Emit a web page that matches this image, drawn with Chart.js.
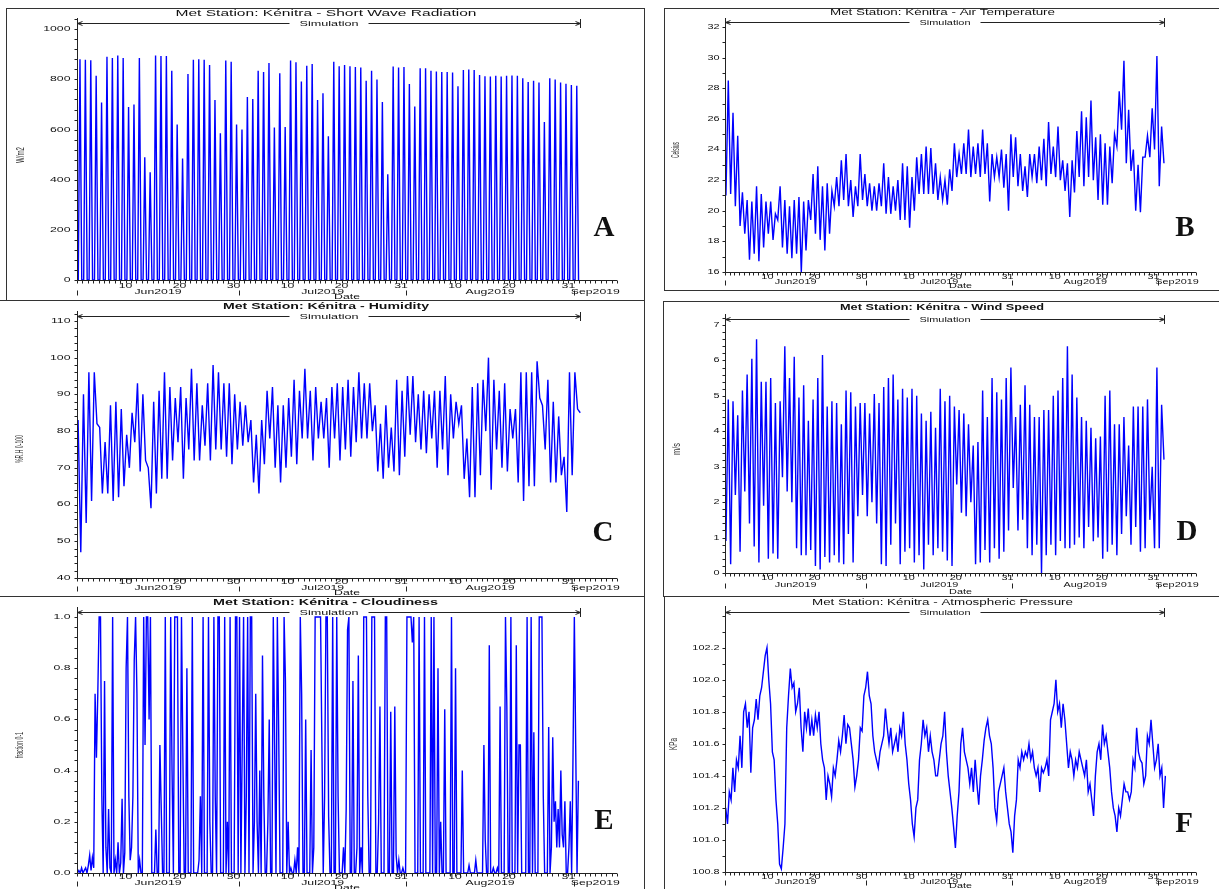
<!DOCTYPE html>
<html>
<head>
<meta charset="utf-8">
<script src="https://cdn.jsdelivr.net/npm/chart.js@4.4.1/dist/chart.umd.min.js"></script>
<style>
  html, body { margin: 0; padding: 0; background: #fff; }
  #page { position: relative; width: 1219px; height: 889px; overflow: hidden; background: #fff; }
  #page canvas { position: absolute; }
  .rule { position: absolute; background: #333; }
</style>
</head>
<body>
<div id="page"></div>
<script>
// ---- axis labels (days counted from 1 Jun 2019 00:00) ----
const dayTickDays = [9, 19, 29, 39, 49, 60, 70, 80, 91];
const dayTickLabels = ['10', '20', '30', '10', '20', '31', '10', '20', '31'];
const monthStarts = [0, 30, 61, 92];
const monthLabelDays = [15, 45.5, 76.5, 92];
const monthLabels = ['Jun2019', 'Jul2019', 'Aug2019', 'Sep2019'];
const simulationEnd = 93.1;

// ---- A: short wave radiation, daily peak W/m2 (night values are 0) ----
const radPeak = [
  880, 878, 876, 815, 708, 890, 885, 895, 885, 690,
  700, 885, 490, 430, 895, 893, 893, 835, 620, 485,
  822, 878, 880, 878, 858, 718, 585, 875, 870, 620,
  600, 730, 722, 835, 830, 865, 608, 825, 610, 875,
  868, 792, 855, 862, 718, 745, 573, 870, 853, 858,
  853, 850, 848, 795, 835, 800, 710, 422, 852, 848,
  850, 782, 692, 845, 845, 835, 832, 830, 830, 828,
  773, 838, 840, 838, 818, 813, 812, 815, 812, 815,
  816, 815, 805, 790, 795, 788, 630, 805, 800, 788,
  783, 778, 775
];

// ---- B: air temperature, two readings a day (night low, afternoon high) ----
const airTemp = [
  21.0, 28.5, 21.1, 26.4, 20.3, 24.9, 19.0, 21.2, 18.5, 20.7,
  16.8, 20.6, 17.2, 21.6, 16.7, 21.1, 17.6, 20.6, 18.5, 20.6,
  18.1, 19.8, 19.4, 21.6, 17.6, 20.7, 17.2, 20.3, 16.9, 20.7,
  17.2, 20.9, 16.0, 20.6, 17.4, 20.7, 19.4, 22.4, 18.5, 22.9,
  18.1, 21.6, 17.4, 21.8, 18.5, 21.3, 20.3, 22.2, 20.3, 23.3,
  20.7, 23.7, 20.3, 22.0, 19.6, 21.6, 20.3, 23.7, 20.7, 22.4,
  20.3, 21.8, 20.0, 21.6, 20.0, 21.8, 20.3, 23.1, 19.8, 22.2,
  19.8, 21.6, 20.0, 22.0, 19.4, 23.1, 19.4, 22.9, 18.9, 22.2,
  20.0, 23.5, 21.1, 23.7, 21.1, 24.2, 21.1, 24.1, 21.1, 23.1,
  20.7, 22.2, 20.7, 22.0, 20.4, 22.7, 21.3, 24.4, 22.2, 23.7,
  22.4, 24.4, 22.4, 25.3, 22.2, 24.2, 22.4, 24.4, 22.2, 25.3,
  22.4, 24.4, 20.6, 23.7, 22.2, 23.5, 22.2, 24.0, 21.5, 23.7,
  20.0, 25.0, 22.2, 24.8, 21.6, 23.7, 21.3, 22.9, 20.9, 23.7,
  22.2, 23.7, 21.8, 24.2, 22.0, 24.7, 21.6, 25.8, 22.4, 24.2,
  22.2, 25.5, 22.0, 23.3, 21.3, 23.1, 19.6, 23.3, 21.2, 25.2,
  22.2, 26.5, 21.6, 26.1, 22.2, 27.2, 22.0, 24.8, 20.7, 25.0,
  20.4, 24.4, 20.4, 24.2, 21.8, 25.0, 24.2, 27.8, 25.3, 29.8,
  23.1, 26.6, 22.6, 24.0, 20.0, 23.0, 19.9, 23.5, 23.5, 24.9,
  23.5, 26.7, 24.0, 30.1, 21.6, 25.5, 23.1
];

// ---- C: relative humidity %, two readings a day (night high, afternoon low) ----
const humidity = [
  83, 47, 90, 55, 96, 61, 96, 82, 81, 63, 77, 63, 87, 61, 88, 62, 86, 65, 79, 70,
  85, 77, 93, 69, 90, 72, 70, 59, 88, 63, 91, 67, 96, 67, 92, 72, 89, 77, 92, 67,
  89, 75, 97, 72, 93, 72, 87, 76, 93, 72, 98, 75, 96, 75, 93, 73, 93, 71, 90, 75,
  88, 76, 87, 77, 83, 66, 79, 63, 83, 71, 91, 78, 92, 70, 87, 66, 87, 70, 89, 73,
  94, 71, 91, 78, 97, 78, 91, 72, 92, 78, 88, 78, 89, 70, 92, 78, 93, 72, 92, 75,
  94, 73, 92, 77, 96, 78, 93, 78, 93, 80, 87, 69, 82, 67, 87, 70, 81, 69, 94, 68,
  91, 73, 95, 79, 95, 77, 90, 75, 91, 74, 90, 78, 91, 70, 91, 75, 95, 68, 90, 78,
  88, 82, 87, 67, 78, 62, 92, 62, 93, 68, 94, 80, 100, 64, 94, 75, 91, 70, 93, 69,
  86, 78, 86, 66, 96, 61, 96, 65, 96, 65, 99, 89, 87, 75, 94, 66, 88, 66, 84, 68,
  73, 58, 96, 68, 96, 86, 85
];

// ---- D: wind speed m/s, two readings a day (night low, afternoon high) ----
const windSpeed = [
  0.9, 4.9, 0.25, 4.85, 2.2, 4.45, 0.6, 5.15, 2.3, 5.6, 1.4, 6.05, 0.75, 6.6, 0.3, 5.4,
  1.9, 5.4, 0.4, 5.5, 0.55, 4.8, 0.4, 4.85, 2.7, 6.4, 2.3, 5.5, 2.0, 6.1, 0.7, 4.95,
  0.5, 5.3, 0.5, 4.3, 0.65, 4.9, 0.2, 5.5, 0.1, 6.15, 0.45, 4.7, 0.3, 4.85, 0.5, 4.8,
  0.3, 4.2, 0.25, 5.15, 1.1, 5.1, 0.3, 4.7, 1.6, 4.8, 2.2, 4.8, 1.6, 4.5, 2.0, 5.05,
  1.4, 4.8, 0.25, 5.25, 0.2, 5.5, 0.8, 5.6, 1.4, 4.9, 0.25, 5.2, 0.6, 4.95, 0.7, 5.2,
  0.3, 5.0, 0.5, 4.5, 0.1, 4.3, 0.8, 4.55, 0.5, 4.1, 0.7, 5.2, 0.6, 4.85, 0.35, 5.0,
  0.2, 4.7, 2.5, 4.6, 1.7, 4.5, 1.6, 4.2, 2.0, 3.6, 0.25, 3.7, 0.3, 5.15, 0.65, 4.4,
  0.3, 5.5, 0.7, 5.1, 0.4, 4.9, 0.6, 5.5, 1.2, 5.8, 2.4, 4.4, 1.2, 4.75, 1.5, 5.3,
  0.7, 4.75, 0.5, 4.4, 0.8, 4.4, 0.0, 4.6, 0.5, 4.6, 0.8, 5.0, 0.5, 5.15, 0.9, 5.5,
  0.7, 6.4, 0.7, 5.6, 0.8, 4.95, 1.0, 4.4, 0.7, 4.3, 1.3, 4.1, 0.9, 3.8, 1.0, 3.85,
  0.4, 5.0, 0.6, 5.15, 0.8, 4.2, 0.5, 4.2, 1.1, 4.4, 1.6, 3.6, 0.8, 4.7, 1.3, 4.7,
  0.6, 4.7, 0.7, 4.9, 1.5, 3.0, 0.7, 5.8, 0.7, 4.75, 3.2
];

// ---- E: cloudiness fraction, four readings a day ----
const cloudiness = [
  0, 0.01, 0, 0.02,   0, 0.01, 0.02, 0,   0.03, 0.07, 0.01, 0.06,   0.02, 0.7, 0.45, 0.7,
  1, 1, 0.3, 0,       0.75, 0.1, 0, 0.25, 0.02, 0, 1, 0,            0.05, 0, 0.12, 0,
  0.04, 0.29, 0, 0.08, 0.8, 1, 0.3, 0.05, 0.1, 0.3, 0.83, 1,        0.7, 0, 0.05, 0,
  0, 1, 0.5, 1,       1, 0.6, 1, 0,     0, 0, 0.17, 0,              0, 0.5, 0.25, 0,
  0, 1, 0, 0,         0, 1, 0.4, 0,     1, 1, 1, 0,                 0, 1, 0.47, 0,
  0, 0.8, 0, 0,       0, 1, 0, 0,       0, 0, 0.05, 0.3,            0, 1, 0, 0,
  0, 1, 0.2, 0,       0, 1, 0.3, 0,     1, 1, 0, 0,                 0, 1, 0, 0.2,
  0, 1, 0, 0,         0, 1, 1, 0,       1, 0, 0.5, 1,               0, 0.3, 1, 0,
  1, 1, 0, 0.2,       0.7, 0.2, 0, 0.4, 0, 0.85, 0.3, 0,            0, 0.2, 0.6, 0,
  0, 1, 0.5, 0,       1, 0.55, 0, 0,    0, 1, 0.75, 0,              0.2, 0, 0.02, 0,
  0, 0.05, 0, 0.1,    0, 1, 0.7, 0,     0, 0.6, 0, 0,               0, 0.48, 0, 0.1,
  1, 1, 1, 1,         1, 0.5, 0, 0.3,   1, 1, 0.22, 0,              0, 1, 0, 0,
  1, 0.3, 0, 0,       0, 0.1, 0, 0.25,  0.95, 1, 0, 0,              0.75, 0, 0, 0.1,
  0.85, 0, 0.1, 0,    1, 1, 1, 0.3,     0, 0, 1, 1,                 1, 0, 0, 0.2,
  0.65, 0, 0, 0,      1, 1, 0, 0,       0.63, 0, 0, 0.65,           0.07, 0, 0.05, 0,
  0, 0.02, 0, 0,      1, 1, 1, 1,       0.9, 1, 0, 0,               0, 1, 0, 0,
  0, 1, 0, 0,         0, 0, 1, 0,       1, 0, 0, 0.8,               0, 0.2, 0, 0,
  0.64, 0, 0, 0,      0, 1, 0, 0,       0.8, 0, 0, 0,               0, 0.4, 0, 0,
  0, 0, 0.03, 0,      0, 0, 0, 0.05,    0, 0, 0, 0,                 0, 0.5, 0.13, 0,
  0, 0.89, 0, 0,      0.02, 0, 0, 0.02, 0, 0.65, 0, 0,              0, 1, 0.65, 0,
  0, 1, 0, 0,         0, 0.89, 0, 0.5,  0.5, 0, 0, 0,               0, 1, 0, 0,
  1, 0, 0.55, 0,      0, 0, 1, 1,       1, 0.3, 0, 0,               0, 0.57, 0, 0.1,
  0.53, 0.2, 0.28, 0.1, 0.25, 0.1, 0.4, 0.15, 0.1, 0.28, 0, 0,      0.1, 0.28, 0, 0.45,
  1, 0.5, 0, 0.36
];

// ---- F: atmospheric pressure kPa, read roughly every 9 hours ----
const pressure = [
  101.2, 101.1, 101.3, 101.25, 101.45, 101.3, 101.5, 101.45, 101.65, 101.45,
  101.8, 101.85, 101.7, 101.8, 101.42, 101.7, 101.75, 101.88, 101.75, 101.9,
  101.95, 102.05, 102.15, 102.2, 102.0, 101.85, 101.55, 101.5, 101.25, 101.1,
  100.85, 100.82, 100.95, 101.1, 101.7, 101.9, 102.07, 101.95, 101.98, 101.8,
  101.85, 101.95, 101.7, 101.55, 101.8, 101.7, 101.82, 101.65, 101.75, 101.65,
  101.78, 101.7, 101.8, 101.6, 101.5, 101.45, 101.25, 101.4, 101.35, 101.27,
  101.45, 101.4, 101.5, 101.62, 101.55, 101.65, 101.78, 101.6, 101.72, 101.7,
  101.6, 101.5, 101.33, 101.4, 101.5, 101.7, 101.68, 101.9, 101.95, 102.05,
  101.9, 101.85, 101.65, 101.55, 101.5, 101.45, 101.55, 101.6, 101.65, 101.82,
  101.7, 101.6, 101.7, 101.55, 101.6, 101.65, 101.55, 101.7, 101.65, 101.8,
  101.6, 101.5, 101.35, 101.25, 101.1, 101.02, 101.2, 101.25, 101.5, 101.6,
  101.75, 101.65, 101.7, 101.55, 101.65, 101.55, 101.5, 101.4, 101.4, 101.5,
  101.6, 101.65, 101.8, 101.55, 101.4, 101.3, 101.2, 101.08, 100.95, 101.15,
  101.3, 101.6, 101.7, 101.55, 101.5, 101.45, 101.35, 101.45, 101.3, 101.5,
  101.35, 101.22, 101.4, 101.5, 101.62, 101.7, 101.75, 101.65, 101.6, 101.45,
  101.2, 101.12, 101.3, 101.35, 101.4, 101.45, 101.3, 101.2, 101.1, 101.05,
  100.92, 101.15, 101.25, 101.5, 101.45, 101.55, 101.5, 101.55, 101.52, 101.6,
  101.5, 101.55, 101.45, 101.4, 101.45, 101.3, 101.45, 101.42, 101.45, 101.5,
  101.4, 101.75, 101.8, 101.85, 102.0, 101.8, 101.85, 101.7, 101.85, 101.75,
  101.6, 101.45, 101.55, 101.5, 101.4, 101.5, 101.45, 101.55, 101.5, 101.45,
  101.4, 101.5, 101.3, 101.35, 101.25, 101.15, 101.4, 101.55, 101.6, 101.5,
  101.72, 101.6, 101.65, 101.55, 101.45, 101.3, 101.2, 101.15, 101.05, 101.2,
  101.15, 101.25, 101.35, 101.3, 101.3, 101.25, 101.3, 101.5, 101.45, 101.7,
  101.55, 101.5, 101.48, 101.35, 101.4, 101.65, 101.6, 101.75, 101.6, 101.45,
  101.5, 101.6, 101.4, 101.45, 101.2, 101.4
];

// ---- build {x, y} points (x in days) ----
function stepped(values, start, step) {
  return values.map((v, i) => ({ x: start + i * step, y: v }));
}
function radiationPoints() {
  const pts = [{ x: 0, y: 0 }];
  radPeak.forEach((p, d) => {
    pts.push({ x: d + 0.24, y: 0 }, { x: d + 0.55, y: p }, { x: d + 0.88, y: 0 });
  });
  return pts;
}

const FONT = '"Liberation Sans", Arial, sans-serif';
const INK = '#111';

// ---- panel layout (page pixels) ----
const panels = [
  { box: { l: 6, t: 8, w: 639, h: 292 }, area: { x0: 77, x1: 617, yTop: 18, yBot: 280 },
    yMin: 0, yMax: 1045, yLabels: [0, 200, 400, 600, 800, 1000], yMinor: 40, dec: 0,
    title: 'Met Station: Kénitra - Short Wave Radiation', titleX: 326, titleY: 14, titleW: 301, titleSize: 8.5, titleBold: false,
    simY: 23, simW: 59, yTitle: 'W/m2', yTitleX: 21, yTitleY: 155, yTitleLen: 16,
    letter: 'A', letterX: 604, letterY: 236, off: [6, 12, 17], sx: 1.75,
    points: radiationPoints() },
  { box: { l: 664, t: 8, w: 555, h: 282 }, area: { x0: 725, x1: 1196, yTop: 18, yBot: 272 },
    yMin: 16, yMax: 32.59, yLabels: [16, 18, 20, 22, 24, 26, 28, 30, 32], yMinor: 1, dec: 0,
    title: 'Met Station: Kénitra - Air Temperature', titleX: 942.5, titleY: 13, titleW: 225, titleSize: 8.5, titleBold: false,
    simY: 22, simW: 51, yTitle: 'Celsius', yTitleX: 676, yTitleY: 150, yTitleLen: 16,
    letter: 'B', letterX: 1185, letterY: 236, off: [5, 10, 14], sx: 1.55,
    points: stepped(airTemp, 0.2, 0.5) },
  { box: { l: 0, t: 300, w: 645, h: 296 }, area: { x0: 77, x1: 617, yTop: 311, yBot: 578 },
    yMin: 40, yMax: 112.7, yLabels: [40, 50, 60, 70, 80, 90, 100, 110], yMinor: 2, dec: 0,
    title: 'Met Station: Kénitra - Humidity', titleX: 326, titleY: 307, titleW: 206, titleSize: 9, titleBold: true,
    simY: 316, simW: 59, yTitle: '%R.H 0-100', yTitleX: 20, yTitleY: 449, yTitleLen: 28,
    letter: 'C', letterX: 603, letterY: 541, off: [4, 10, 15], sx: 1.75,
    points: stepped(humidity, 0.2, 0.5) },
  { box: { l: 663, t: 301, w: 556, h: 295 }, area: { x0: 725, x1: 1196, yTop: 314, yBot: 573 },
    yMin: 0, yMax: 7.31, yLabels: [0, 1, 2, 3, 4, 5, 6, 7], yMinor: 0.2, dec: 0,
    title: 'Met Station: Kénitra - Wind Speed', titleX: 942, titleY: 308, titleW: 204, titleSize: 9, titleBold: true,
    simY: 319, simW: 51, yTitle: 'm/s', yTitleX: 677, yTitleY: 449, yTitleLen: 12,
    letter: 'D', letterX: 1187, letterY: 540, off: [5, 12, 19], sx: 1.55,
    points: stepped(windSpeed, 0.2, 0.5) },
  { box: { l: 0, t: 596, w: 645, h: 293 }, area: { x0: 77, x1: 617, yTop: 607, yBot: 873 },
    yMin: 0, yMax: 1.039, yLabels: [0, 0.2, 0.4, 0.6, 0.8, 1.0], yMinor: 0.04, dec: 1,
    title: 'Met Station: Kénitra - Cloudiness', titleX: 325.5, titleY: 603, titleW: 225, titleSize: 9, titleBold: true,
    simY: 612, simW: 59, yTitle: 'fraction 0-1', yTitleX: 20, yTitleY: 745, yTitleLen: 26,
    letter: 'E', letterX: 604, letterY: 829, off: [4, 10, 15], sx: 1.75,
    points: stepped(cloudiness, 0.1, 0.25) },
  { box: { l: 664, t: 596, w: 555, h: 293 }, area: { x0: 725, x1: 1196, yTop: 606, yBot: 872 },
    yMin: 100.8, yMax: 102.46, yLabels: [100.8, 101.0, 101.2, 101.4, 101.6, 101.8, 102.0, 102.2], yMinor: 0.1, dec: 1,
    title: 'Met Station: Kénitra - Atmospheric Pressure', titleX: 942.5, titleY: 603, titleW: 261, titleSize: 8.5, titleBold: false,
    simY: 612, simW: 51, yTitle: 'KPa', yTitleX: 674, yTitleY: 744, yTitleLen: 12,
    letter: 'F', letterX: 1184, letterY: 832, off: [5, 10, 14], sx: 1.55,
    points: stepped(pressure, 0.15, 0.381) }
];

// panel frame rules: [left, top, width, height]
const rules = [
  [6, 8, 639, 1], [6, 8, 1, 292], [644, 8, 1, 881], [0, 300, 645, 1], [0, 596, 645, 1],
  [664, 8, 555, 1], [664, 8, 1, 282], [664, 290, 555, 1],
  [663, 301, 556, 1], [663, 301, 1, 295], [663, 596, 556, 1], [664, 596, 1, 293]
];

// ---- text helpers ----
function stretchText(ctx, s, x, y, size, sx, align, weight) {
  ctx.save();
  ctx.font = (weight || '') + ' ' + size + 'px ' + FONT;
  ctx.translate(x, y);
  ctx.scale(sx, 1);
  ctx.textAlign = align;
  ctx.textBaseline = 'middle';
  ctx.fillStyle = INK;
  ctx.fillText(s, 0, 0);
  ctx.restore();
}
function fitText(ctx, s, x, y, size, width, weight) {
  ctx.font = (weight || '') + ' ' + size + 'px ' + FONT;
  const w = ctx.measureText(s).width;
  stretchText(ctx, s, x, y, size, width / w, 'center', weight);
}

function drawDecor(chart, p) {
  const ctx = chart.ctx;
  const X = v => chart.scales.x.getPixelForValue(v);
  const Y = v => chart.scales.y.getPixelForValue(v);
  const a = chart.chartArea;
  const ox = p.box.l, oy = p.box.t;
  const L = Math.round(a.left) + 0.5, B = Math.round(a.bottom) + 0.5;
  const tick = 7;

  ctx.save();
  ctx.strokeStyle = '#222';
  ctx.lineWidth = 1;
  ctx.beginPath();
  // axes
  ctx.moveTo(L, a.top); ctx.lineTo(L, B); ctx.lineTo(a.right, B);
  // y ticks (major and minor)
  const n = Math.round((p.yMax - p.yMin) / p.yMinor);
  for (let i = 0; i <= n; i++) {
    const v = p.yMin + i * p.yMinor;
    if (v > p.yMax) break;
    const y = Math.round(Y(v)) + 0.5;
    ctx.moveTo(L - 3, y); ctx.lineTo(L, y);
  }
  // daily x ticks
  for (let d = 0; d <= 100; d++) {
    const x = Math.round(X(d)) + 0.5;
    ctx.moveTo(x, B); ctx.lineTo(x, B + 3);
  }
  // month separators
  monthStarts.forEach(d => {
    const x = Math.round(X(d)) + 0.5;
    ctx.moveTo(x, B + p.off[1] - 2); ctx.lineTo(x, B + p.off[1] + 3);
  });
  ctx.stroke();

  // y tick labels
  p.yLabels.forEach(v => {
    stretchText(ctx, v.toFixed(p.dec), L - (p.sx > 1.6 ? 7 : 6), Y(v), tick, p.sx, 'right');
  });
  // x tick labels, month labels, axis title
  dayTickDays.forEach((d, i) => stretchText(ctx, dayTickLabels[i], X(d), B + p.off[0], tick, p.sx, 'center'));
  monthLabelDays.forEach((d, i) => {
    if (i === 3) stretchText(ctx, monthLabels[i], X(d) - 3, B + p.off[1], tick, p.sx, 'left');
    else stretchText(ctx, monthLabels[i], X(d), B + p.off[1], tick, p.sx, 'center');
  });
  stretchText(ctx, 'Date', (a.left + a.right) / 2, B + p.off[2], tick, p.sx, 'center');

  // title
  fitText(ctx, p.title, p.titleX - ox, p.titleY - oy, p.titleSize, p.titleW, p.titleBold ? 'bold' : '');

  // simulation bar
  const sy = Math.round(p.simY - oy) + 0.5;
  const xe = Math.round(X(simulationEnd)) + 0.5;
  const cx = (L + xe) / 2;
  ctx.beginPath();
  ctx.moveTo(L, sy); ctx.lineTo(cx - p.simW / 2 - 10, sy);
  ctx.moveTo(cx + p.simW / 2 + 10, sy); ctx.lineTo(xe, sy);
  ctx.moveTo(L + 5, sy - 2); ctx.lineTo(L, sy); ctx.lineTo(L + 5, sy + 2);
  ctx.moveTo(xe - 5, sy - 2); ctx.lineTo(xe, sy); ctx.lineTo(xe - 5, sy + 2);
  ctx.moveTo(xe, sy - 4.5); ctx.lineTo(xe, sy + 4.5);
  ctx.stroke();
  fitText(ctx, 'Simulation', cx, sy, 7.5, p.simW);

  // rotated y-axis title
  ctx.font = '8px ' + FONT;
  const w = ctx.measureText(p.yTitle).width;
  ctx.save();
  ctx.translate(p.yTitleX - ox, p.yTitleY - oy);
  ctx.rotate(-Math.PI / 2);
  ctx.scale(p.yTitleLen / w, 1.3);
  ctx.textAlign = 'center';
  ctx.textBaseline = 'middle';
  ctx.fillStyle = '#333';
  ctx.fillText(p.yTitle, 0, 0);
  ctx.restore();

  // panel letter
  ctx.font = 'bold 29px "Liberation Serif", "Times New Roman", serif';
  ctx.textAlign = 'center';
  ctx.textBaseline = 'alphabetic';
  ctx.fillStyle = '#111';
  ctx.fillText(p.letter, p.letterX - ox, p.letterY - oy);
  ctx.restore();
}

// ---- build the six charts ----
const page = document.getElementById('page');

panels.forEach(p => {
  const cv = document.createElement('canvas');
  cv.width = p.box.w;
  cv.height = p.box.h;
  cv.style.left = p.box.l + 'px';
  cv.style.top = p.box.t + 'px';
  page.appendChild(cv);

  const decor = { id: 'decor', afterDraw: chart => drawDecor(chart, p) };

  new Chart(cv, {
    type: 'line',
    data: {
      datasets: [{
        data: p.points,
        borderColor: '#0000ff',
        borderWidth: 1.4,
        pointRadius: 0,
        tension: 0,
        fill: false
      }]
    },
    options: {
      responsive: false,
      animation: false,
      devicePixelRatio: 1,
      events: [],
      layout: {
        padding: {
          left: p.area.x0 - p.box.l,
          right: p.box.l + p.box.w - p.area.x1,
          top: p.area.yTop - p.box.t,
          bottom: p.box.t + p.box.h - p.area.yBot
        }
      },
      plugins: { legend: { display: false }, tooltip: { enabled: false }, title: { display: false } },
      scales: {
        x: { type: 'linear', min: 0, max: 100, display: false },
        y: { type: 'linear', min: p.yMin, max: p.yMax, display: false }
      }
    },
    plugins: [decor]
  });
});

rules.forEach(r => {
  const d = document.createElement('div');
  d.className = 'rule';
  d.style.left = r[0] + 'px';
  d.style.top = r[1] + 'px';
  d.style.width = r[2] + 'px';
  d.style.height = r[3] + 'px';
  page.appendChild(d);
});
</script>
</body>
</html>
